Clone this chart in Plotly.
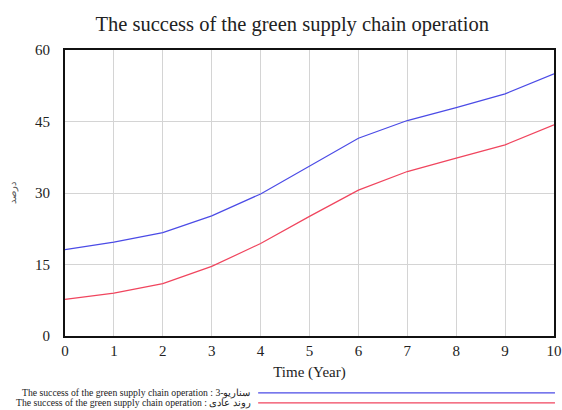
import plotly.graph_objects as go

years = [0, 1, 2, 3, 4, 5, 6, 7, 8, 9, 10]
scenario_3 = [18.1, 19.7, 21.7, 25.2, 29.8, 35.7, 41.5, 45.2, 47.9, 50.8, 55.0]
normal_trend = [7.7, 9.0, 11.0, 14.6, 19.4, 25.1, 30.6, 34.5, 37.3, 40.1, 44.3]
y_ticks = [0, 15, 30, 45, 60]

series_names = [
    "The success of the green supply chain operation : سناریو-3",
    "The success of the green supply chain operation : روند عادی",
]
series_colors = ["#4b4be6", "#f0455e"]

serif = "Liberation Serif, Times New Roman, serif"

fig = go.Figure()
for name, vals, col in zip(series_names, [scenario_3, normal_trend], series_colors):
    fig.add_trace(go.Scatter(x=years, y=vals, mode="lines", name=name,
                             line=dict(color=col, width=1.2), showlegend=False))

# legend drawn by hand: text to the left, long line to the right
for i, (name, col) in enumerate(zip(series_names, series_colors)):
    yy = -0.199 - 0.035 * i
    fig.add_annotation(x=0.385, y=yy, xref="paper", yref="paper",
                       xanchor="right", yanchor="middle", showarrow=False,
                       text=name, font=dict(family=serif, size=9.7, color="#222"))
    fig.add_shape(type="line", xref="paper", yref="paper",
                  x0=0.395, x1=1.002, y0=yy, y1=yy,
                  line=dict(color=col, width=1.2))

fig.update_layout(
    width=562, height=410,
    margin=dict(l=65, r=8, t=50, b=74, autoexpand=False),
    paper_bgcolor="white", plot_bgcolor="white",
    font=dict(family=serif, color="#222"),
    title=dict(text="The success of the green supply chain operation",
               x=0.52, xanchor="center", y=0.943, yanchor="middle",
               font=dict(family=serif, size=20.5, color="#222")),
    xaxis=dict(range=[0, 10], tickvals=years, showgrid=True,
               gridcolor="#d4d4d4", gridwidth=1, automargin=False,
               showline=True, linecolor="#111", linewidth=2, mirror=True,
               ticks="", tickfont=dict(size=15),
               title=dict(text="Time (Year)", font=dict(size=15), standoff=8),
               zeroline=False),
    yaxis=dict(range=[0, 60], tickvals=y_ticks, showgrid=True,
               gridcolor="#d4d4d4", gridwidth=1, automargin=False,
               showline=True, linecolor="#111", linewidth=2, mirror=True,
               ticks="", tickfont=dict(size=15), ticklabelstandoff=10,
               title=dict(text="درصد", font=dict(size=10, color="#555"), standoff=17),
               zeroline=False),
)

# the page body has a default 8px margin, which would clip the figure
fig.write_html("out.html", config={"displayModeBar": False},
               post_script="document.body.style.margin='0';")
